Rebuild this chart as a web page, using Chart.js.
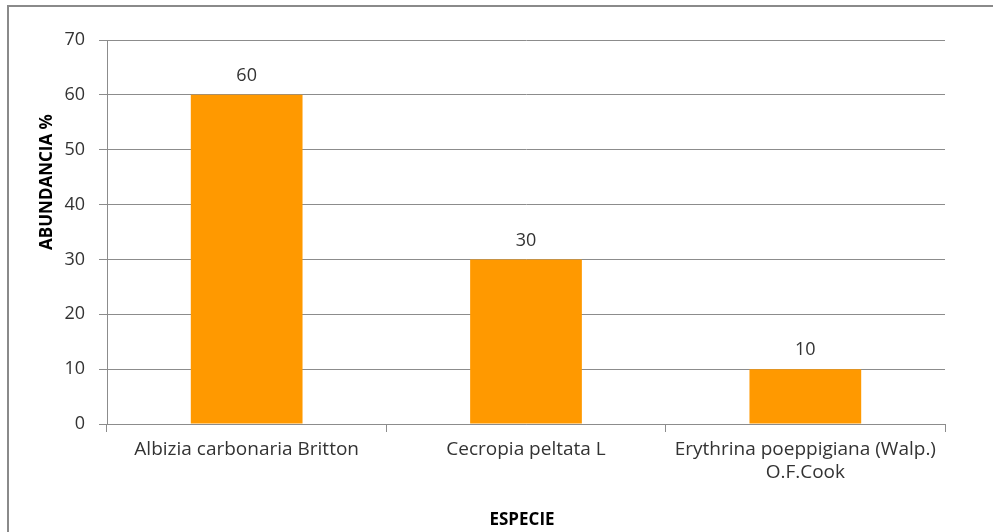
<!DOCTYPE html>
<html>
<head>
<meta charset="utf-8">
<script src="https://cdn.jsdelivr.net/npm/chart.js@4.4.1/dist/chart.umd.min.js"></script>
<style>
  html, body { margin: 0; padding: 0; background: #fff; }
  #wrap { width: 993px; height: 532px; }
</style>
</head>
<body>
<div id="wrap"><canvas id="especieChart" width="993" height="532"></canvas></div>
<script>
// datos
const especies = [
    'Albizia carbonaria Britton',
    'Cecropia peltata L',
    ['Erythrina poeppigiana (Walp.)', 'O.F.Cook']
];
const abundancia = [60, 30, 10];
const yTicks = [0, 10, 20, 30, 40, 50, 60, 70];

const FONT = "'Open Sans', 'Liberation Sans', sans-serif";
const GRID = '#8c8c8c';

// marco del grafico, titulos de ejes y etiquetas de valor
const decoPlugin = {
    id: 'deco',
    afterDraw(chart) {
        const ctx = chart.ctx;
        const area = chart.chartArea;
        ctx.save();
        ctx.strokeStyle = '#8a8a8a';
        ctx.lineWidth = 2;
        ctx.beginPath();
        ctx.moveTo(8, 540);
        ctx.lineTo(8, 6);
        ctx.lineTo(1000, 6);
        ctx.stroke();

        // etiquetas sobre las barras
        ctx.fillStyle = '#333';
        ctx.font = '18px ' + FONT;
        ctx.textAlign = 'center';
        ctx.textBaseline = 'middle';
        const meta = chart.getDatasetMeta(0);
        meta.data.forEach((bar, i) => {
            ctx.fillText(String(abundancia[i]), bar.x, bar.y - 19);
        });

        // titulos
        ctx.fillStyle = '#000';
        ctx.font = 'bold 17px ' + FONT;
        ctx.fillText('ESPECIE', (area.left + area.right) / 2 - 4, 520);
        ctx.translate(47, 182);
        ctx.rotate(-Math.PI / 2);
        ctx.fillText('ABUNDANCIA %', 0, 0);
        ctx.restore();
    }
};

new Chart(document.getElementById('especieChart'), {
    type: 'bar',
    data: {
        labels: especies,
        datasets: [{
            data: abundancia,
            backgroundColor: '#ff9900',
            borderWidth: 0,
            categoryPercentage: 1,
            barPercentage: 0.4
        }]
    },
    options: {
        responsive: false,
        animation: false,
        layout: { padding: { left: 0, right: 48, top: 40, bottom: 0 } },
        plugins: {
            legend: { display: false },
            tooltip: { enabled: false }
        },
        scales: {
            x: {
                grid: {
                    offset: true,
                    drawOnChartArea: false,
                    color: GRID,
                    tickLength: 8
                },
                border: { color: GRID, width: 1 },
                ticks: {
                    color: '#333',
                    font: { family: FONT, size: 19 },
                    padding: 6,
                    maxRotation: 0,
                    autoSkip: false
                },
                afterFit(scale) { scale.height = 108; }
            },
            y: {
                min: 0,
                max: 70,
                afterBuildTicks(scale) {
                    scale.ticks = yTicks.map(v => ({ value: v }));
                },
                grid: {
                    color: GRID,
                    tickLength: 8
                },
                border: { color: GRID, width: 1 },
                ticks: {
                    color: '#333',
                    font: { family: FONT, size: 18 },
                    padding: 14
                },
                afterFit(scale) { scale.width = 107; }
            }
        }
    },
    plugins: [decoPlugin]
});
</script>
</body>
</html>
